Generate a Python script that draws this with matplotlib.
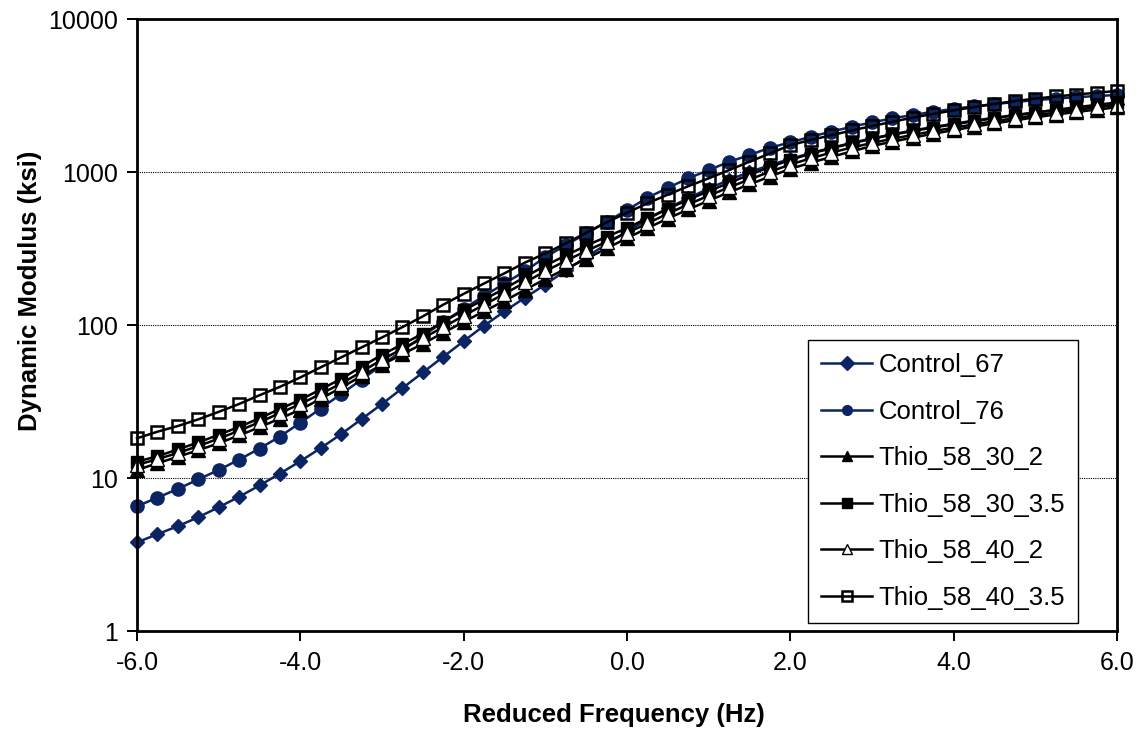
import numpy as np
import matplotlib
matplotlib.use("Agg")
import matplotlib.pyplot as plt
from matplotlib.ticker import FixedLocator, FixedFormatter, NullLocator

plt.rcParams['font.family'] = ['Liberation Sans', 'DejaVu Sans']

# reduced frequency, log scale, step 0.25
freq = [-6.0, -5.75, -5.5, -5.25, -5.0, -4.75, -4.5, -4.25, -4.0, -3.75, -3.5, -3.25,
        -3.0, -2.75, -2.5, -2.25, -2.0, -1.75, -1.5, -1.25, -1.0, -0.75, -0.5, -0.25,
        0.0, 0.25, 0.5, 0.75, 1.0, 1.25, 1.5, 1.75, 2.0, 2.25, 2.5, 2.75,
        3.0, 3.25, 3.5, 3.75, 4.0, 4.25, 4.5, 4.75, 5.0, 5.25, 5.5, 5.75, 6.0]

control_67 = [3.8, 4.3, 4.85, 5.55, 6.45, 7.55, 8.95, 10.7, 12.9, 15.7, 19.4, 24.3,
              30.5, 38.7, 49, 62, 78.5, 99, 123, 151, 184, 228, 278, 338,
              410, 490, 580, 675, 780, 890, 1000, 1110, 1220, 1330, 1440, 1550,
              1660, 1765, 1870, 1970, 2070, 2170, 2265, 2360, 2450, 2540, 2630, 2715, 2800]

control_76 = [6.55, 7.45, 8.5, 9.8, 11.3, 13.2, 15.6, 18.7, 23, 28.5, 35.5, 44,
              55, 68, 85, 105, 128, 155, 187, 225, 278, 333, 397, 473,
              565, 679, 789, 910, 1030, 1167, 1291, 1443, 1563, 1702, 1836, 1977,
              2112, 2244, 2360, 2478, 2590, 2690, 2780, 2870, 2950, 3020, 3085, 3140, 3190]

thio_58_30_2 = [11.3, 12.5, 13.8, 15.2, 16.9, 19.0, 21.5, 24.5, 28.0, 33, 39, 46.5,
                55, 64.5, 75.5, 89, 105, 123, 144, 170, 200, 233, 271, 317,
                370, 430, 497, 570, 650, 738, 830, 935, 1050, 1150, 1255, 1365,
                1480, 1580, 1680, 1780, 1880, 1980, 2080, 2180, 2280, 2375, 2470, 2560, 2650]

thio_58_30_35 = [12.8, 13.9, 15.4, 17.1, 19.2, 21.6, 24.6, 28.3, 32.5, 38, 44.5, 53.5,
                 64, 75, 88, 105, 125, 147, 173, 206, 245, 285, 330, 378,
                 430, 500, 575, 660, 750, 850, 960, 1080, 1200, 1320, 1430, 1540,
                 1650, 1755, 1855, 1955, 2050, 2150, 2250, 2350, 2450, 2550, 2650, 2750, 2850]

thio_58_40_2 = [12.2, 13.3, 14.6, 16.2, 18.1, 20.4, 23.2, 26.6, 30.5, 35.5, 41.5, 49.5,
                59.5, 70, 82, 97, 115, 136, 160, 190, 225, 263, 305, 350,
                400, 462, 535, 615, 700, 795, 895, 1005, 1120, 1230, 1340, 1445,
                1550, 1650, 1750, 1850, 1950, 2050, 2150, 2250, 2350, 2450, 2550, 2650, 2750]

thio_58_40_35 = [18.2, 20.1, 21.9, 24.2, 27.1, 30.5, 34.8, 39.5, 45.5, 53, 61.5, 71.5,
                 83, 97, 114, 136, 160, 187, 218, 256, 294, 342, 401, 469,
                 542, 625, 712, 808, 910, 1030, 1168, 1323, 1500, 1620, 1740, 1870,
                 2000, 2130, 2270, 2400, 2530, 2660, 2790, 2910, 3020, 3120, 3210, 3300, 3390]

y_ticks = [1, 10, 100, 1000, 10000]
y_labels = ['1', '10', '100', '1000', '10000']
x_ticks = [-6, -4, -2, 0, 2, 4, 6]
x_labels = ['-6.0', '-4.0', '-2.0', '0.0', '2.0', '4.0', '6.0']

navy = '#0b2464'

fig = plt.figure(figsize=(11.38, 7.33), dpi=100)
ax = fig.add_axes([0.1204, 0.139, 0.8611, 0.835])

lw = 1.8
ax.plot(freq, control_67, color=navy, lw=lw, marker='D', ms=7, mfc=navy, mec=navy, label='Control_67', clip_on=False)
ax.plot(freq, control_76, color=navy, lw=lw, marker='o', ms=9.5, mfc=navy, mec=navy, label='Control_76', clip_on=False)
ax.plot(freq, thio_58_30_2, color='black', lw=lw, marker='^', ms=9.5, mfc='black', mec='black', label='Thio_58_30_2', clip_on=False)
ax.plot(freq, thio_58_30_35, color='black', lw=lw, marker='s', ms=8, mfc='black', mec='black', label='Thio_58_30_3.5', clip_on=False)
ax.plot(freq, thio_58_40_2, color='black', lw=lw, marker='^', ms=9.5, mfc='white', mec='black', label='Thio_58_40_2', clip_on=False)
ax.plot(freq, thio_58_40_35, color='black', lw=lw, marker='s', ms=9, mfc='none', mec='black', mew=1.8, label='Thio_58_40_3.5', clip_on=False)

ax.set_yscale('log')
ax.set_ylim(1, 10000)
ax.set_xlim(-6, 6)
ax.yaxis.set_major_locator(FixedLocator(y_ticks))
ax.yaxis.set_major_formatter(FixedFormatter(y_labels))
ax.yaxis.set_minor_locator(NullLocator())
ax.set_xticks(x_ticks)
ax.set_xticklabels(x_labels)

ax.grid(axis='y', which='major', color='black', linestyle=(0, (1, 1)), lw=0.8)
for s in ax.spines.values():
    s.set_linewidth(2.0)
ax.tick_params(axis='both', direction='out', length=7, width=1.4, labelsize=18, pad=7)

ax.set_xlabel('Reduced Frequency (Hz)', fontsize=18.5, fontweight='bold')
ax.set_ylabel('Dynamic Modulus (ksi)', fontsize=18.5, fontweight='bold')
ax.xaxis.set_label_coords(0.487, -0.118)
ax.yaxis.set_label_coords(-0.097, 0.556)

leg = ax.legend(loc='upper left', bbox_to_anchor=(0.710, 0.536), bbox_transform=fig.transFigure,
                fontsize=18.5, frameon=True, fancybox=False, edgecolor='black', framealpha=1,
                handlelength=2.0, handletextpad=0.25, labelspacing=0.88, borderpad=0.5, borderaxespad=0)
leg.get_frame().set_linewidth(1.0)
for h in leg.legend_handles:
    h.set_markersize(7)

fig.savefig('out.png', dpi=100)
